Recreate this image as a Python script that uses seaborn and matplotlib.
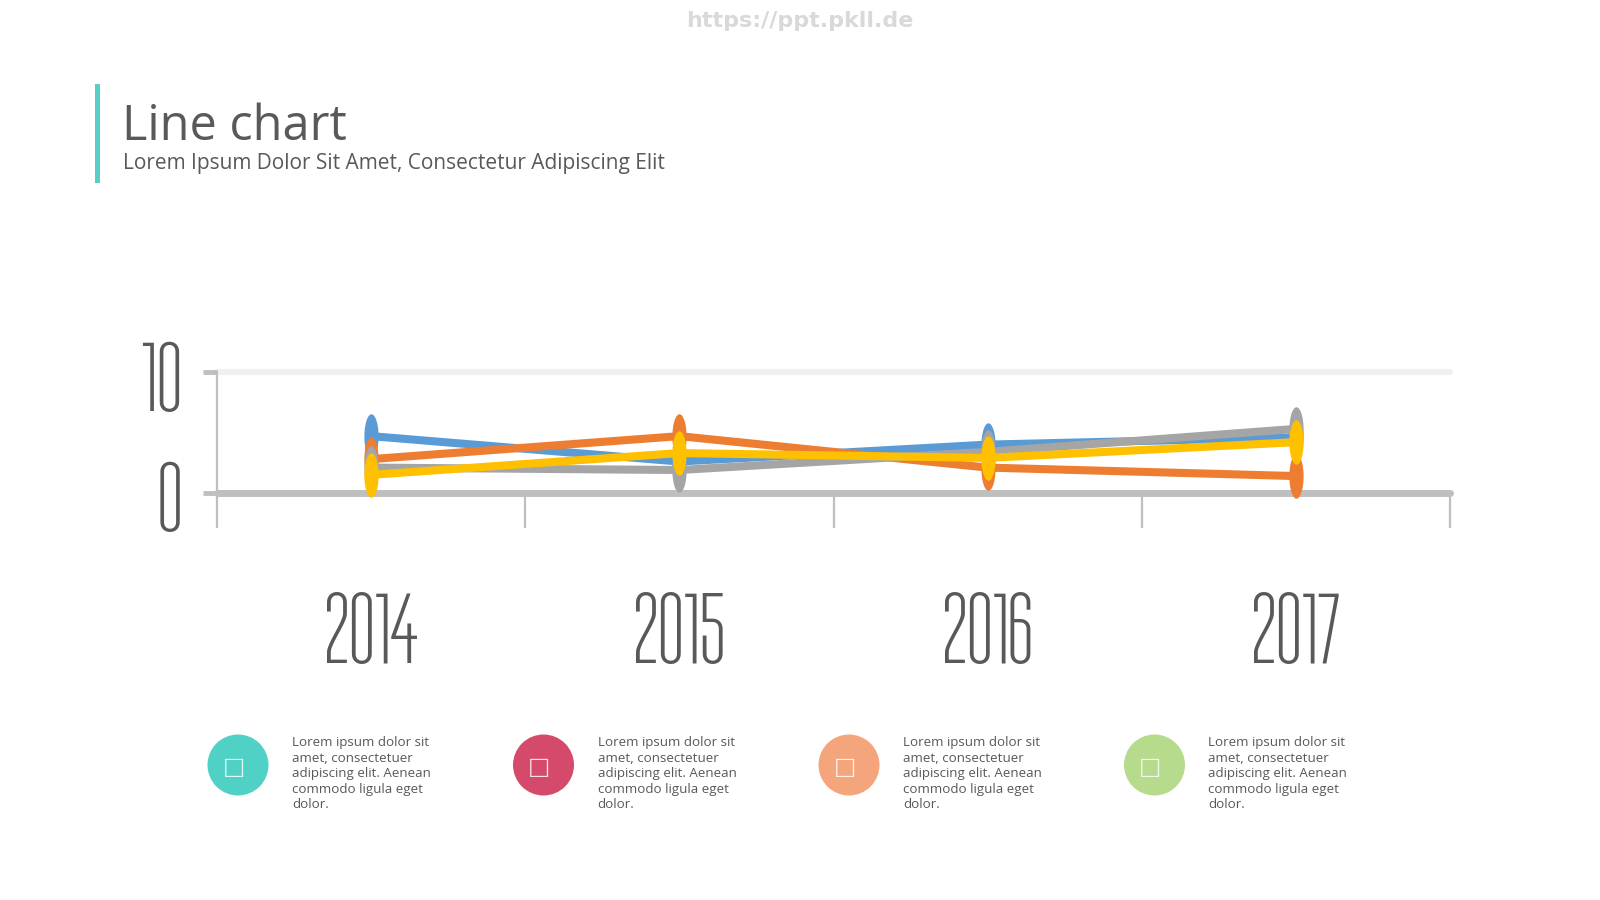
import matplotlib
matplotlib.use("Agg")
import numpy as np
import pandas as pd
import matplotlib.pyplot as plt
import seaborn as sns
from matplotlib.path import Path
from matplotlib.patches import Circle, Rectangle
from matplotlib.ticker import FixedLocator

sns.set_theme(style="white")
plt.rcParams["font.family"] = ["Open Sans", "DejaVu Sans"]

# chart data
years = ["2014", "2015", "2016", "2017"]
blue = [4.7, 2.6, 4.0, 4.6]
orange = [2.8, 4.7, 2.1, 1.4]
gray = [2.1, 1.9, 3.4, 5.3]
yellow = [1.5, 3.3, 2.9, 4.2]
series_names = ["Series 1", "Series 2", "Series 3", "Series 4"]
series_colors = ["#5B9BD5", "#ED7D31", "#A5A5A5", "#FFC000"]

# blurbs under the chart
blurb = "Lorem ipsum dolor sit\namet, consectetuer\nadipiscing elit. Aenean\ncommodo ligula eget\ndolor."
icon_colors = ["#4FD1C5", "#D54A6A", "#F5A57B", "#B7DB8C"]

df = pd.DataFrame({
    "year": years * 4,
    "value": blue + orange + gray + yellow,
    "series": sum([[s] * len(years) for s in series_names], []),
})

text_col = "#595959"
digits = ["Tulpen One", "Saira Extra Condensed", "Sofia Sans Extra Condensed",
          "Alumni Sans", "DejaVu Sans"]

fig = plt.figure(figsize=(16, 9), dpi=100)
fig.patch.set_facecolor("white")

# tall, narrow point markers
t = np.linspace(0, 2 * np.pi, 60)
ellipse = Path(np.column_stack([0.32 * np.cos(t), np.sin(t)]), closed=True)

ax = fig.add_axes([217 / 1600, 407 / 900, 1233 / 1600, 121 / 900])
ax.axhline(10, color="#F0F0F0", lw=4.5, zorder=0, clip_on=False)
ax.axhline(0, color="#BFBFBF", lw=5, zorder=1, clip_on=False)
sns.lineplot(data=df, x="year", y="value", hue="series", palette=series_colors,
             sort=False, legend=False, lw=5.8, marker=ellipse, markersize=32,
             markeredgewidth=0, ax=ax, zorder=3, clip_on=False)

ax.set_xlim(-0.5, 3.5)
ax.set_ylim(0, 10)
ax.set_yticks([0, 10])
ax.set_yticklabels(["0", "10"])
ax.xaxis.set_minor_locator(FixedLocator([-0.5, 0.5, 1.5, 2.5, 3.5]))
ax.tick_params(axis="x", which="major", bottom=True, length=0, pad=66)
ax.tick_params(axis="x", which="minor", bottom=True, length=25, width=1.6,
               color="#BFBFBF", direction="out")
ax.tick_params(axis="y", left=True, length=10, width=3.5, color="#BFBFBF", pad=15)
for lab in ax.get_xticklabels() + ax.get_yticklabels():
    lab.set_family(digits)
    lab.set_fontweight(200)
    lab.set_color(text_col)
for lab in ax.get_xticklabels():
    lab.set_fontsize(74)
for lab in ax.get_yticklabels():
    lab.set_fontsize(72)
ax.set_xlabel("")
ax.set_ylabel("")
for side in ["top", "right", "bottom"]:
    ax.spines[side].set_visible(False)
ax.spines["left"].set_color("#BFBFBF")
ax.spines["left"].set_linewidth(1.6)
ax.set_facecolor("none")

# overlay in pixel coordinates for the page decoration
ov = fig.add_axes([0, 0, 1, 1], zorder=-1)
ov.set_xlim(0, 1600)
ov.set_ylim(900, 0)
ov.axis("off")

ov.text(800, 21, "https://ppt.pkll.de", ha="center", va="center", fontsize=16,
        fontweight="bold", color="#D9D9D9", family=["DejaVu Sans"])
ov.add_patch(Rectangle((95, 84), 5, 99, color="#56D0C6", lw=0))
ov.text(122, 140, "Line chart", fontsize=35, color=text_col, va="baseline")
ov.text(123, 169, "Lorem Ipsum Dolor Sit Amet, Consectetur Adipiscing Elit",
        fontsize=15, color=text_col, va="baseline")

for i, c in enumerate(icon_colors):
    cx = 238 + i * 305.5
    ov.add_patch(Circle((cx, 765), 30.5, color=c, lw=0))
    ov.text(cx - 4, 767, "\u25A1", ha="center", va="center", fontsize=17,
            color="white", alpha=0.85, family=["DejaVu Sans"])
    ov.text(cx + 54, 736, blurb, ha="left", va="top", fontsize=9.6,
            color=text_col, linespacing=1.26)

fig.savefig("out.png", dpi=100, facecolor="white")
